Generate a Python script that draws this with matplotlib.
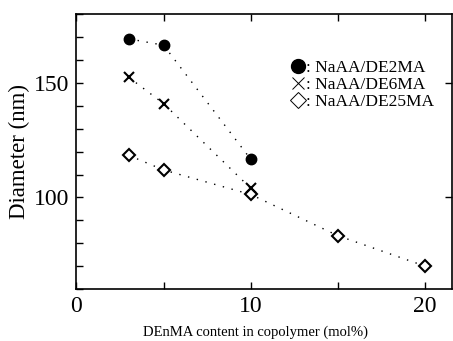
import matplotlib.pyplot as plt
from matplotlib.ticker import MultipleLocator

plt.rcParams['font.family'] = ['Liberation Serif', 'DejaVu Serif']

# data
x_de2 = [3, 5, 10]
y_de2 = [169.3, 166.5, 116.7]
x_de6 = [3, 5, 10]
y_de6 = [152.5, 141, 104]
x_de25 = [3, 5, 10, 15, 20]
y_de25 = [118.4, 112, 101.3, 83.3, 70]

fig = plt.figure(figsize=(4.53, 3.41), dpi=100)
ax = fig.add_axes([76.4 / 453, 1 - 289 / 341, (452 - 76.4) / 453, (289 - 14.3) / 341])

dots = (0, (1, 5.5))
ax.plot(x_de2, y_de2, color='black', lw=1, ls=dots, zorder=1)
ax.plot(x_de6, y_de6, color='black', lw=1, ls=dots, zorder=1)
ax.plot(x_de25, y_de25, color='black', lw=1, ls=dots, zorder=1)

ax.plot(x_de2, y_de2, ls='none', marker='o', ms=7.5, color='black', zorder=3)
ax.plot(x_de6, y_de6, ls='none', marker='x', ms=7, mew=1.5, color='black', zorder=3)
ax.plot(x_de25, y_de25, ls='none', marker='D', ms=6, mew=1.5, mfc='white',
        mec='black', zorder=2)

# legend built from proxy handles
h1, = ax.plot([], [], ls='none', marker='o', ms=10, color='black')
h2, = ax.plot([], [], ls='none', marker='x', ms=8, mew=0.7, color='black')
h3, = ax.plot([], [], ls='none', marker='D', ms=8, mew=0.7, mfc='white', mec='black')
ax.legend([h1, h2, h3], [': NaAA/DE2MA', ': NaAA/DE6MA', ': NaAA/DE25MA'],
          loc='upper left', bbox_to_anchor=(0.552, 0.86), frameon=False,
          handlelength=0.8, handletextpad=0.1, labelspacing=0.05,
          borderaxespad=0, fontsize=12.5)

ax.set_xlim(0, 21.55)
ax.set_ylim(60, 180)
ax.set_xticks([0, 10, 20])
ax.xaxis.set_minor_locator(MultipleLocator(5))
ax.set_yticks([100, 150])
ax.yaxis.set_minor_locator(MultipleLocator(10))
ax.tick_params(which='both', direction='in', top=True, right=True, labelsize=17,
               width=1, pad=5)
ax.tick_params(which='major', length=5)
ax.tick_params(which='minor', length=5)
ax.tick_params(axis='y', which='minor', right=False)

for s in ax.spines.values():
    s.set_linewidth(1.2)

ax.set_ylabel('Diameter (nm)', fontsize=16.5, labelpad=3)
ax.set_xlabel('DEnMA content in copolymer (mol%)', fontsize=10.5, labelpad=6)
ax.xaxis.label.set_x(0.478)

fig.savefig('out.png', dpi=100)
